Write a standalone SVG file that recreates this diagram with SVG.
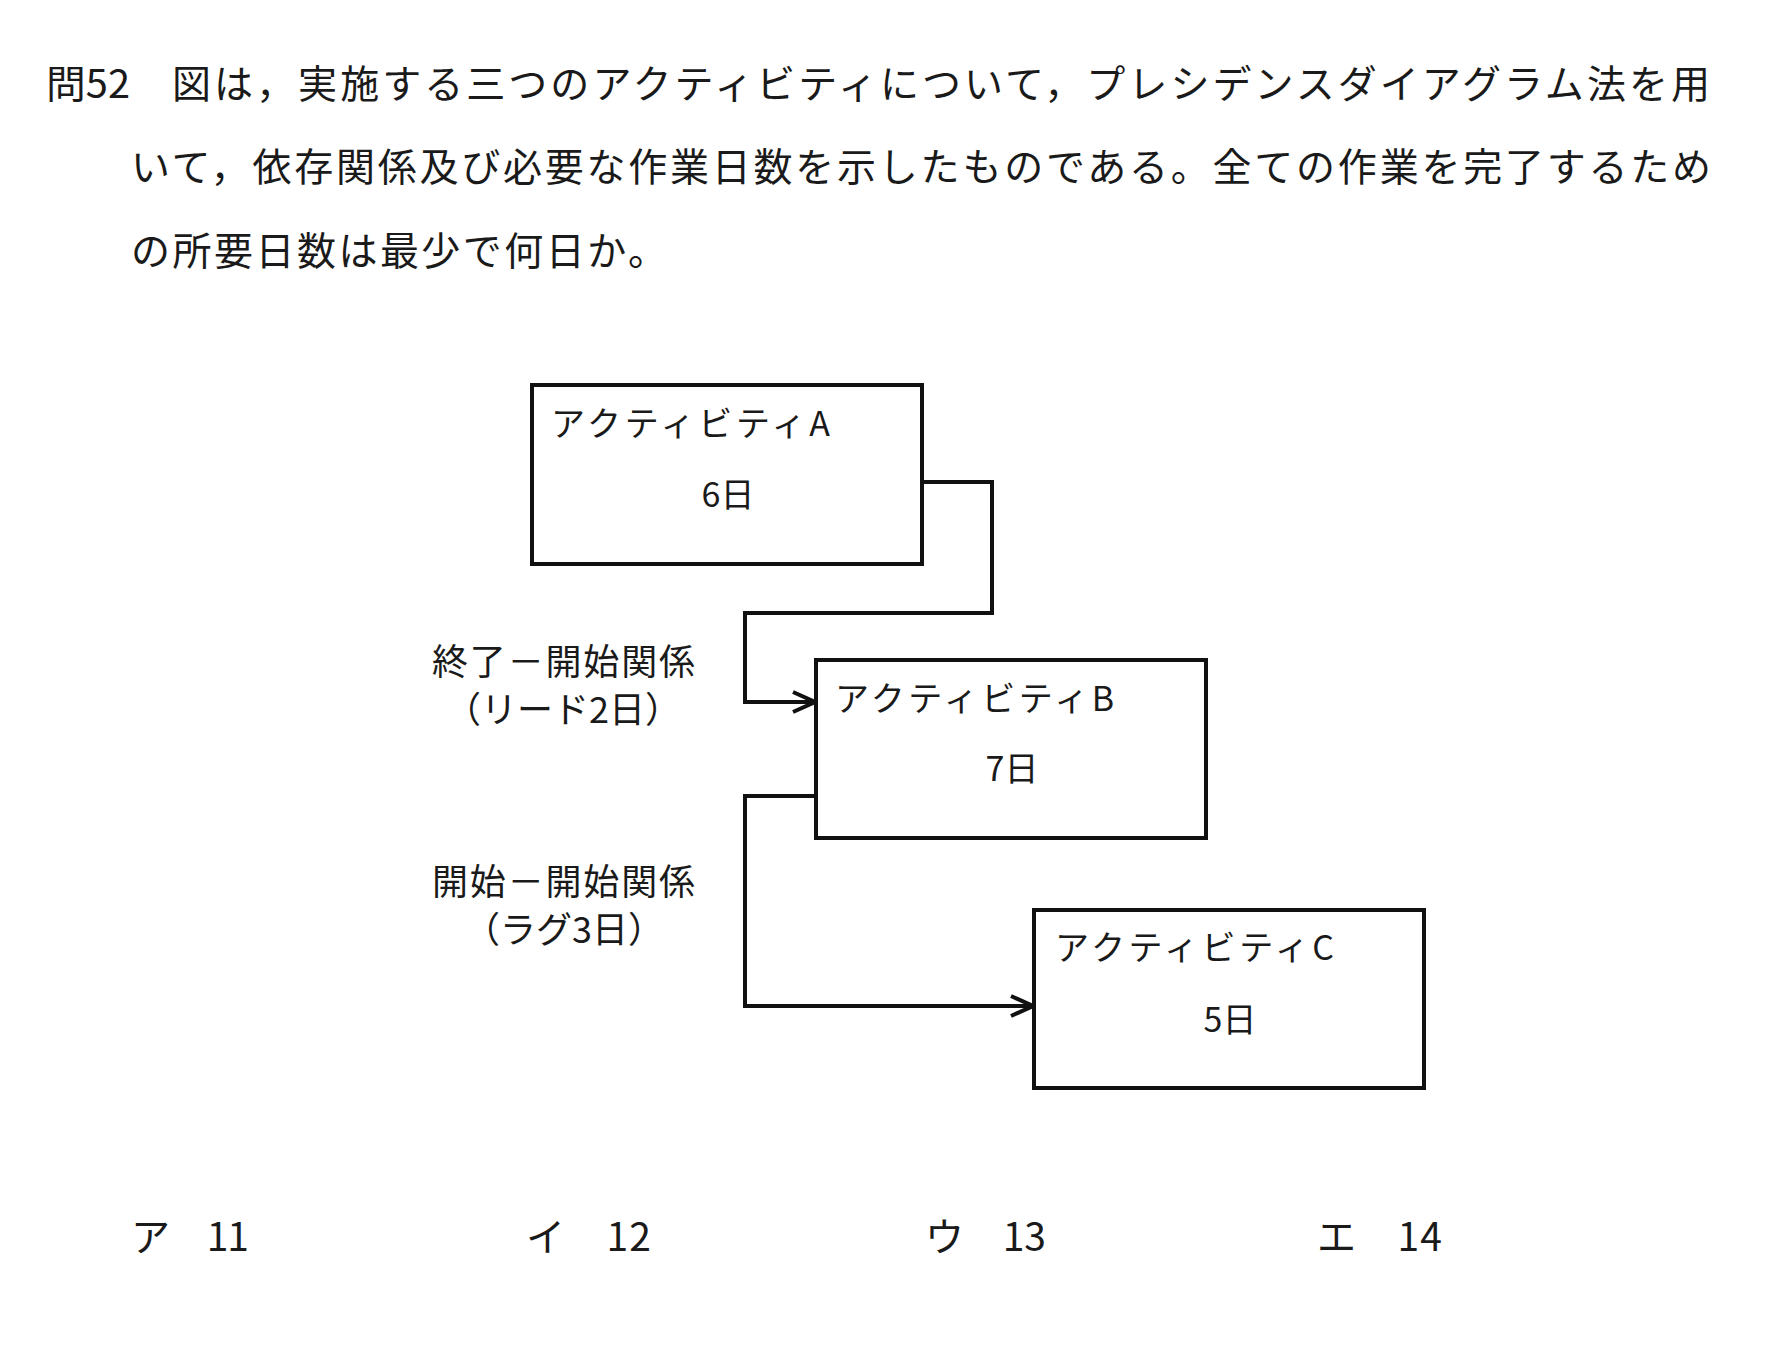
<svg xmlns="http://www.w3.org/2000/svg" width="1790" height="1360" viewBox="0 0 1790 1360">
<defs>
<style>
text{font-family:"Noto Sans CJK JP","Noto Sans CJK SC",sans-serif;fill:#1a1a1a}
.body{font-size:39px}
.box{fill:#fff;stroke:#111;stroke-width:4}
.bt{font-size:34px}
.lbl{font-size:36px}
.conn{fill:none;stroke:#111;stroke-width:4;stroke-linejoin:miter}
</style>
<marker id="arr" markerUnits="userSpaceOnUse" markerWidth="30" markerHeight="30" viewBox="-26 -14 30 28" refX="0" refY="0" orient="auto">
<path d="M-22,-10 L0,0 L-22,10" fill="none" stroke="#111" stroke-width="4"/>
</marker>
</defs>
<rect width="1790" height="1360" fill="#fff"/>
<g id="question">
<text class="body" x="46" y="98" textLength="84" lengthAdjust="spacingAndGlyphs">問52</text>
<text class="body" x="172" y="98" textLength="1538" lengthAdjust="spacing">図は，実施する三つのアクティビティについて，プレシデンスダイアグラム法を用</text>
<text class="body" x="131" y="181" textLength="1580" lengthAdjust="spacing">いて，依存関係及び必要な作業日数を示したものである。全ての作業を完了するため</text>
<text class="body" x="131" y="265" textLength="536" lengthAdjust="spacing">の所要日数は最少で何日か。</text>
</g>
<g id="connectors">
<polyline class="conn" points="922,482 992,482 992,613 745,613 745,702 815,702" marker-end="url(#arr)"/>
<polyline class="conn" points="816,796 745,796 745,1006 1033,1006" marker-end="url(#arr)"/>
</g>
<g id="activityA">
<rect class="box" x="532" y="385" width="390" height="179"/>
<text class="bt" x="551" y="436" textLength="279" lengthAdjust="spacing">アクティビティA</text>
<text class="bt" x="728" y="507" text-anchor="middle">6日</text>
</g>
<g id="activityB">
<rect class="box" x="816" y="660" width="390" height="178"/>
<text class="bt" x="835" y="711" textLength="279" lengthAdjust="spacing">アクティビティB</text>
<text class="bt" x="1012" y="781" text-anchor="middle">7日</text>
</g>
<g id="activityC">
<rect class="box" x="1034" y="910" width="390" height="178"/>
<text class="bt" x="1055" y="960" textLength="279" lengthAdjust="spacing">アクティビティC</text>
<text class="bt" x="1230" y="1032" text-anchor="middle">5日</text>
</g>
<g id="labels">
<text class="lbl"><tspan x="432" y="675" textLength="263" lengthAdjust="spacing">終了－開始関係</tspan><tspan x="563" y="723" text-anchor="middle">（リード2日）</tspan></text>
<text class="lbl"><tspan x="432" y="895" textLength="263" lengthAdjust="spacing">開始－開始関係</tspan><tspan x="564" y="943" text-anchor="middle">（ラグ3日）</tspan></text>
</g>
<g id="answers">
<text class="body" x="131" y="1251" textLength="118" lengthAdjust="spacing">ア　11</text>
<text class="body" x="526" y="1251" textLength="125" lengthAdjust="spacing">イ　12</text>
<text class="body" x="925" y="1251" textLength="121" lengthAdjust="spacing">ウ　13</text>
<text class="body" x="1317" y="1251" textLength="125" lengthAdjust="spacing">エ　14</text>
</g>
</svg>
